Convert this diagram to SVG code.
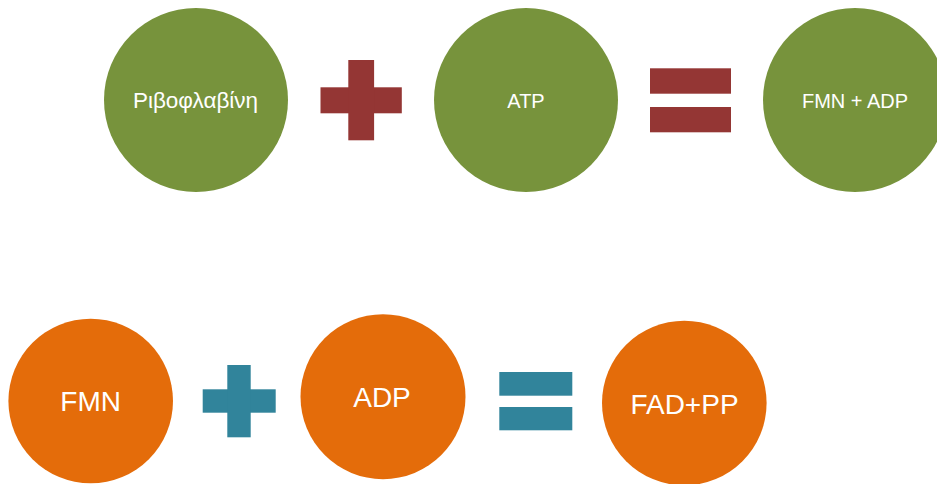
<svg xmlns="http://www.w3.org/2000/svg" width="937" height="484" viewBox="0 0 937 484">
<style>
.g{fill:#77933C}
.o{fill:#E46C0A}
.r{fill:#943634}
.t{fill:#31849B}
.lbl{font-family:"Liberation Sans",Arial,sans-serif;fill:#FFFFFF;text-anchor:middle}
.s{font-size:20px}
.gr{font-size:22.5px}
.b{font-size:28px}
</style>
<rect width="937" height="484" fill="#FFFFFF"/>
<g id="riboflavin"><circle class="g" cx="196" cy="100" r="92"/><text class="lbl gr" x="195.5" y="108">Ριβοφλαβίνη</text></g>
<g id="plus1" class="r"><rect x="320.5" y="87.3" width="81.3" height="26"/><rect x="348.3" y="60" width="25.8" height="80.3"/></g>
<g id="atp"><circle class="g" cx="526" cy="100" r="92"/><text class="lbl s" x="526" y="107.5">ATP</text></g>
<g id="equals1" class="r"><rect x="650" y="68.3" width="81" height="25.4"/><rect x="650" y="107" width="81" height="25.3"/></g>
<g id="fmnadp"><circle class="g" cx="855" cy="100" r="92"/><text class="lbl s" x="855" y="107.5">FMN + ADP</text></g>
<g id="fmn"><circle class="o" cx="90.7" cy="401" r="82.3"/><text class="lbl b" x="90.7" y="411">FMN</text></g>
<g id="plus2" class="t"><rect x="202.7" y="389.3" width="73" height="23.4"/><rect x="227.3" y="365" width="23.4" height="72.3"/></g>
<g id="adp"><circle class="o" cx="383" cy="396.7" r="82.5"/><text class="lbl b" x="382" y="407.3">ADP</text></g>
<g id="equals2" class="t"><rect x="499.3" y="372" width="73" height="23.7"/><rect x="499.3" y="407" width="73" height="23.3"/></g>
<g id="fadpp"><circle class="o" cx="684.3" cy="403" r="82.3"/><text class="lbl b" x="684.5" y="414.3">FAD+PP</text></g>
<g id="connectors"/>
</svg>
